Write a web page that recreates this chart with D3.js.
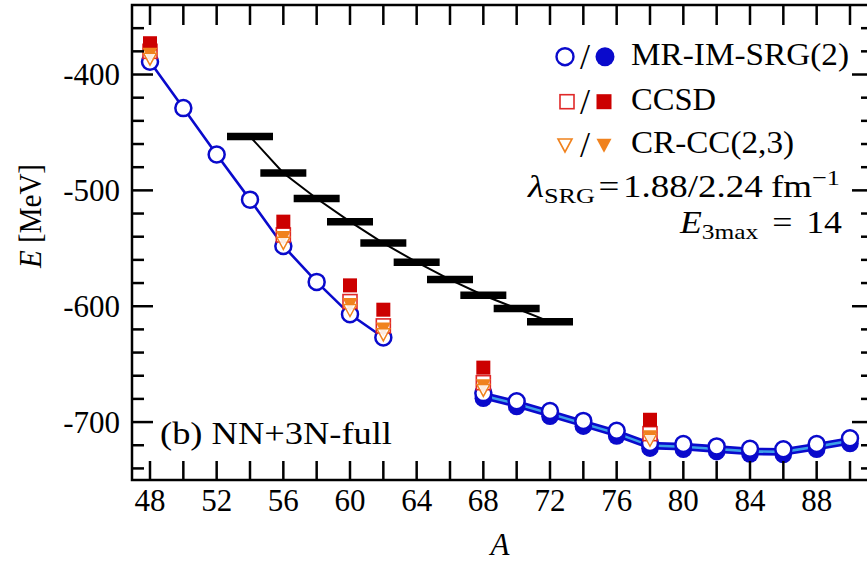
<!DOCTYPE html>
<html><head><meta charset="utf-8">
<script src="https://cdn.jsdelivr.net/npm/d3@7"></script>
<style>body{margin:0;background:#fff}svg{display:block}text{font-family:"Liberation Serif","Times New Roman",serif;fill:#000}</style>
</head><body><svg id="c" width="867" height="561"></svg>
<script>
// ---- data ----
const imsrgA = [48,50,52,54,56,58,60,62,68,70,72,74,76,78,80,82,84,86,88,90];
const imsrgOpen = [-389,-429,-469,-508,-548,-579,-607,-627,-675,-682,-690.5,-699,-707.5,-718,-719,-721,-723,-723.5,-719,-714];
const imsrgFilledA = [68,70,72,74,76,78,80,82,84,86,88,90];
const imsrgFilled = [-679.5,-686.5,-695,-703.5,-712,-722.5,-723.5,-725.5,-727.5,-728,-723.5,-718.5];
const ccA = [48,56,60,62,68,78];
const ccsdFilled = [-373,-527,-582,-603,-653,-698];
const ccsdOpen = [-380,-538.5,-596,-617,-666,-710];
const crccFilled = [-381,-539,-597,-618,-667,-711];
const crccOpen = [-385,-544,-602,-623,-671,-714];
const exptA = [54,56,58,60,62,64,66,68,70,72];
const exptE = [-453.5,-485,-507,-527,-545.5,-562,-577,-590.5,-602,-613.5];
const exptHalfWidth = 1.38;
const xTicksLabelled = [48,52,56,60,64,68,72,76,80,84,88];
const xTicksAll = d3.range(48,92,2);
const yTicksMajor = [-700,-600,-500,-400];
const yTicksMinor = d3.range(-740,-340,20);
const legendLabels = ["MR-IM-SRG(2)","CCSD","CR-CC(2,3)"];

// ---- layout ----
const svg = d3.select("#c");
const L=132, R=873, T=5, B=480;
const x = d3.scaleLinear().domain([46.92,91.38]).range([L,R]);
const y = d3.scaleLinear().domain([-750,-340]).range([B,T]);
const blue="#0a0acc", lightBlue="#3d9fe8", red="#cc0000", redOpen="#e02828", orange="#f0821e";

const g = svg.append("g");
// experimental bars + connecting line
g.append("path").datum(exptA.map((a,i)=>[a,exptE[i]]))
  .attr("d", d3.line().x(d=>x(d[0])).y(d=>y(d[1])))
  .attr("fill","none").attr("stroke","#000").attr("stroke-width",2);
g.selectAll(".bar").data(exptA).join("line")
  .attr("x1",(a)=>x(a-exptHalfWidth)).attr("x2",(a)=>x(a+exptHalfWidth))
  .attr("y1",(a,i)=>y(exptE[i])).attr("y2",(a,i)=>y(exptE[i]))
  .attr("stroke","#000").attr("stroke-width",7.5);

// IM-SRG lines
const openPts = imsrgA.map((a,i)=>[a,imsrgOpen[i]]);
const upper = openPts.filter(d=>d[0]<65), lowerOpen = openPts.filter(d=>d[0]>65);
const lowerFilled = imsrgFilledA.map((a,i)=>[a,imsrgFilled[i]]);
const line = d3.line().x(d=>x(d[0])).y(d=>y(d[1]));
g.append("path").datum(lowerOpen.map((d,i)=>[d[0],d[1],lowerFilled[i][1]]))
  .attr("d", d3.area().x(d=>x(d[0])).y0(d=>y(d[1])).y1(d=>y(d[2])))
  .attr("fill",lightBlue);
[upper, lowerOpen, lowerFilled].forEach(s=>{
  g.append("path").datum(s).attr("d",line).attr("fill","none").attr("stroke",blue).attr("stroke-width",2.6);
});
// filled circles
g.selectAll(".fc").data(lowerFilled).join("circle")
  .attr("cx",d=>x(d[0])).attr("cy",d=>y(d[1])).attr("r",8.8).attr("fill",blue);
// open circles
g.selectAll(".oc").data(openPts).join("circle")
  .attr("cx",d=>x(d[0])).attr("cy",d=>y(d[1])).attr("r",8).attr("fill","#fff").attr("stroke",blue).attr("stroke-width",2.5);

const sq = 14;
function downTri(w,h){return `M${-w/2},${-h/3}L${w/2},${-h/3}L0,${2*h/3}Z`;}
// open squares
g.selectAll(".os").data(ccA).join("rect")
  .attr("x",(a)=>x(a)-sq/2).attr("y",(a,i)=>y(ccsdOpen[i])-sq/2).attr("width",sq).attr("height",sq)
  .attr("fill","#fff").attr("stroke",redOpen).attr("stroke-width",1.6);
// filled squares
g.selectAll(".fs").data(ccA).join("rect")
  .attr("x",(a)=>x(a)-sq/2).attr("y",(a,i)=>y(ccsdFilled[i])-sq/2).attr("width",sq).attr("height",sq)
  .attr("fill",red);
// filled triangles
g.selectAll(".ft").data(ccA).join("path")
  .attr("transform",(a,i)=>`translate(${x(a)},${y(crccFilled[i])})`).attr("d",downTri(15,14)).attr("fill",orange);
// open triangles
g.selectAll(".ot").data(ccA).join("path")
  .attr("transform",(a,i)=>`translate(${x(a)},${y(crccOpen[i])})`).attr("d",downTri(13,12))
  .attr("fill","#fff").attr("fill-opacity",0.85).attr("stroke",orange).attr("stroke-width",1.5);

// ---- axes / frame ----
const ax = svg.append("g").attr("stroke","#000").attr("stroke-width",2.5);
ax.append("rect").attr("x",L).attr("y",T).attr("width",R-L).attr("height",B-T).attr("fill","none");
xTicksAll.forEach(a=>{
  ax.append("line").attr("x1",x(a)).attr("x2",x(a)).attr("y1",B).attr("y2",B-19);
  ax.append("line").attr("x1",x(a)).attr("x2",x(a)).attr("y1",T).attr("y2",T+20);
});
yTicksMinor.forEach(v=>{
  const len = yTicksMajor.includes(v)?21:12;
  ax.append("line").attr("x1",L).attr("x2",L+len).attr("y1",y(v)).attr("y2",y(v));
  ax.append("line").attr("x1",R).attr("x2",R-len).attr("y1",y(v)).attr("y2",y(v));
});
const fs = 31;
svg.selectAll(".xl").data(xTicksLabelled).join("text")
  .attr("x",a=>x(a)).attr("y",511).attr("text-anchor","middle").attr("font-size",fs).text(a=>a);
svg.selectAll(".yl").data(yTicksMajor).join("text")
  .attr("x",120).attr("y",v=>y(v)+10.5).attr("text-anchor","end").attr("font-size",fs).text(v=>"-"+Math.abs(v));
svg.append("text").attr("x",500).attr("y",555).attr("text-anchor","middle").attr("font-size",fs).attr("font-style","italic").text("A");
const yl = svg.append("text").attr("transform","translate(41,216) rotate(-90)").attr("text-anchor","middle").attr("font-size",fs)
  .attr("textLength",104).attr("lengthAdjust","spacingAndGlyphs");
yl.append("tspan").attr("font-style","italic").text("E");
yl.append("tspan").text(" [MeV]");

// ---- legend ----
const lg = svg.append("g");
const rows = [65,110,153];
const mY = [56.7,101.7,143.3];
const widths = [218,85,163];
lg.append("circle").attr("cx",565).attr("cy",mY[0]).attr("r",8.5).attr("fill","#fff").attr("stroke",blue).attr("stroke-width",2.4);
lg.append("circle").attr("cx",605).attr("cy",mY[0]).attr("r",9.5).attr("fill",blue);
lg.append("rect").attr("x",567-7).attr("y",mY[1]-7).attr("width",14).attr("height",14).attr("fill","#fff").attr("stroke",redOpen).attr("stroke-width",1.6);
lg.append("rect").attr("x",604-7.5).attr("y",mY[1]-7.5).attr("width",15).attr("height",15).attr("fill",red);
lg.append("path").attr("transform",`translate(565,${mY[2]})`).attr("d",downTri(14,13)).attr("fill","#fff").attr("stroke",orange).attr("stroke-width",1.6);
lg.append("path").attr("transform",`translate(604,${mY[2]})`).attr("d",downTri(15,14)).attr("fill",orange);
rows.forEach((b,i)=>{
  lg.append("text").attr("x",585).attr("y",b+4).attr("text-anchor","middle").attr("font-size",36).text("/");
  lg.append("text").attr("x",631).attr("y",b).attr("font-size",fs)
    .attr("textLength",widths[i]).attr("lengthAdjust","spacingAndGlyphs").text(legendLabels[i]);
});
const t1 = svg.append("text").attr("x",840).attr("y",197).attr("text-anchor","end").attr("font-size",fs)
  .attr("textLength",312).attr("lengthAdjust","spacingAndGlyphs");
t1.append("tspan").attr("font-style","italic").text("λ");
t1.append("tspan").attr("font-size",22).attr("dy",6).text("SRG");
t1.append("tspan").attr("dy",-6).attr("dx",3).text("=");
t1.append("tspan").attr("dx",3).text("1.88/2.24");
t1.append("tspan").attr("dx",7).text("fm");
t1.append("tspan").attr("font-size",22).attr("dy",-12).text("−1");
const t2 = svg.append("text").attr("x",842).attr("y",233).attr("text-anchor","end").attr("font-size",fs)
  .attr("textLength",162).attr("lengthAdjust","spacingAndGlyphs");
t2.append("tspan").attr("font-style","italic").text("E");
t2.append("tspan").attr("font-size",22).attr("dy",6).text("3max");
t2.append("tspan").attr("dy",-6).attr("dx",12).text("=");
t2.append("tspan").attr("dx",12).text("14");
svg.append("text").attr("x",160).attr("y",444).attr("font-size",fs)
  .attr("textLength",232).attr("lengthAdjust","spacingAndGlyphs").text("(b) NN+3N-full");
</script></body></html>
